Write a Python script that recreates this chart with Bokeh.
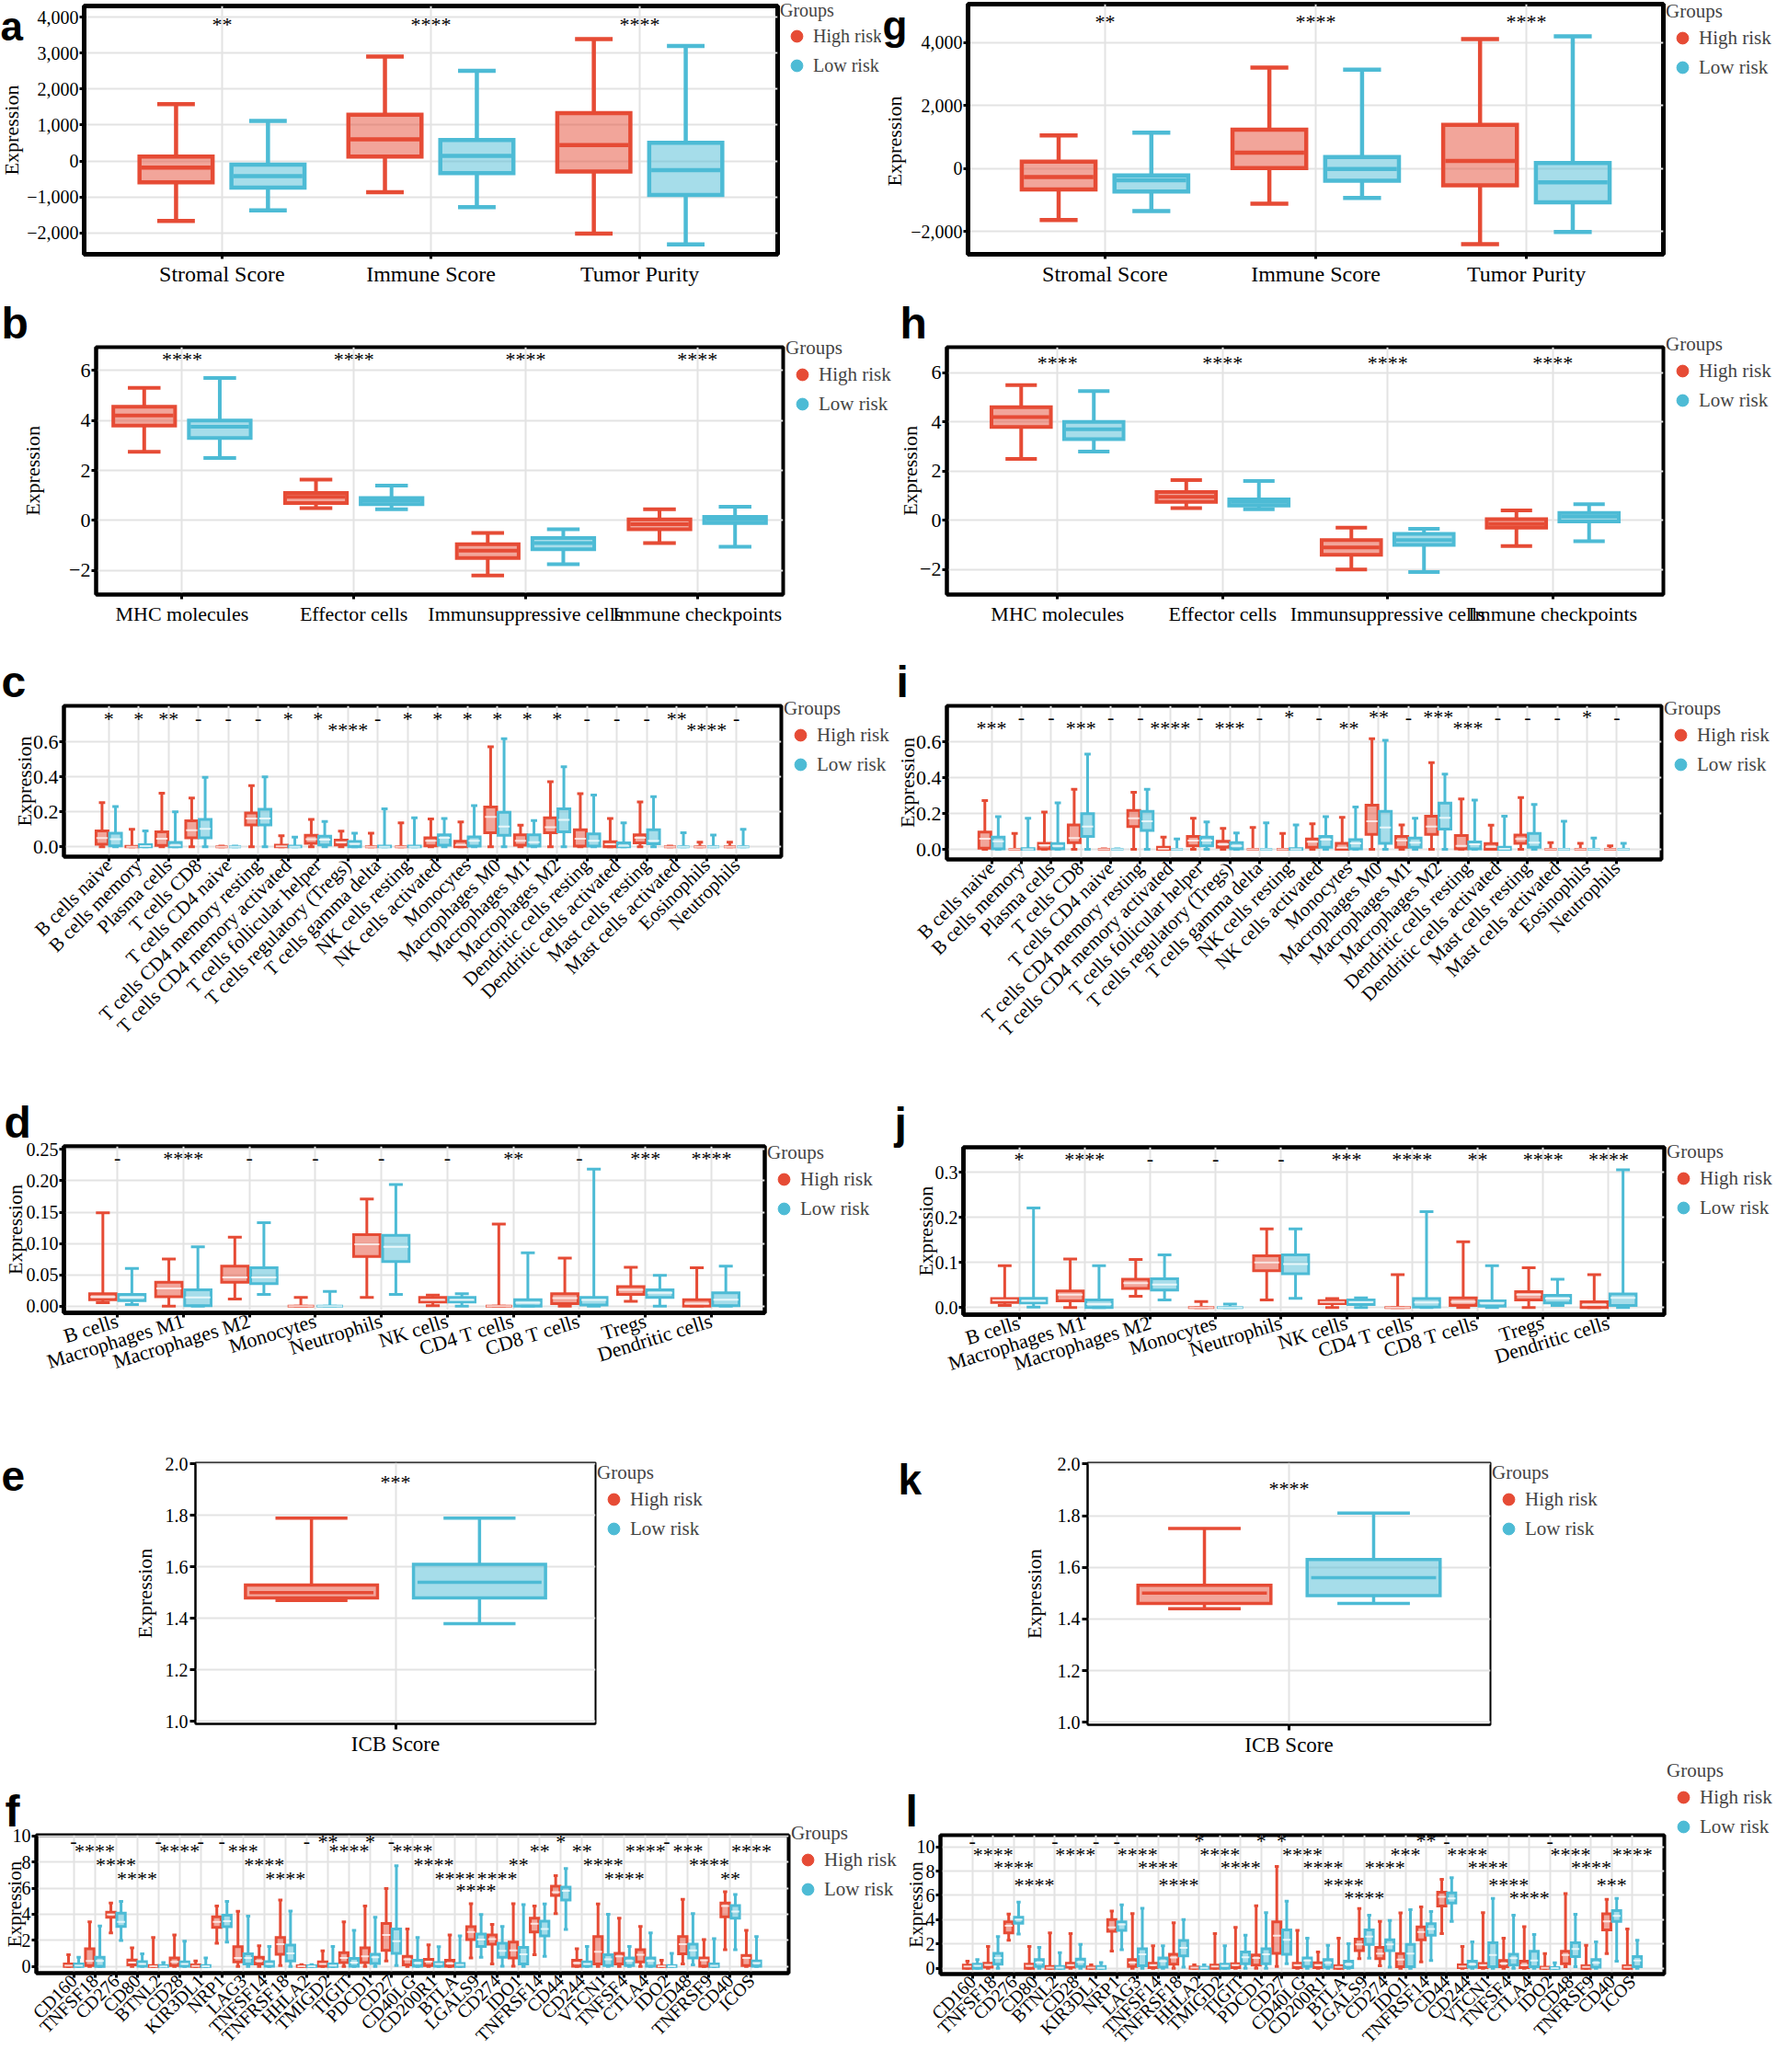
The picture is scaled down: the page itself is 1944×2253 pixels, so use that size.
import math
from bokeh.plotting import figure
from bokeh.models import (ColumnDataSource, FactorRange, Range1d, FixedTicker,
                          Legend, LegendItem, Title, Spacer)
from bokeh.transform import dodge
from bokeh.layouts import column, row
from bokeh.core.properties import value
from bokeh.embed import file_html
from bokeh.resources import INLINE

# ============================ DATA ============================
# each box tuple: (lower whisker, Q1, median, Q3, upper whisker)
groups = ["High risk", "Low risk"]

# ---- a ----
a_categories = ["Stromal Score", "Immune Score", "Tumor Purity"]
a_high = [(-1667, -590, -185, 126, 1583), (-867, 126, 606, 1288, 2905), (-2021, -295, 446, 1330, 3394)]
a_low = [(-1373, -741, -421, -101, 1112), (-1280, -337, 143, 581, 2509), (-2316, -943, -253, 505, 3200)]
a_sig = ["**", "****", "****"]
a_sig_y = [3800, 3800, 3800]
a_yticks = [-2000, -1000, 0, 1000, 2000, 3000, 4000]
a_ylabels = ["\u22122,000", "\u22121,000", "0", "1,000", "2,000", "3,000", "4,000"]

# ---- g ----
g_categories = ["Stromal Score", "Immune Score", "Tumor Purity"]
g_high = [(-1631, -660, -272, 223, 1049), (-1117, 19, 505, 1233, 3204), (-2398, -534, 243, 1388, 4107)]
g_low = [(-1350, -728, -369, -214, 1136), (-932, -388, -10, 369, 3136), (-2010, -1068, -437, 175, 4194)]
g_sig = ["**", "****", "****"]
g_sig_y = [4650, 4650, 4650]
g_yticks = [-2000, 0, 2000, 4000]
g_ylabels = ["\u22122,000", "0", "2,000", "4,000"]

# ---- b ----
b_categories = ["MHC molecules", "Effector cells", "Immunsuppressive cells", "Immune checkpoints"]
b_high = [(2.75, 3.8, 4.2, 4.55, 5.3), (0.5, 0.7, 0.95, 1.1, 1.64), (-2.2, -1.5, -1.2, -0.95, -0.5), (-0.9, -0.35, -0.15, 0.05, 0.45)]
b_low = [(2.5, 3.3, 3.75, 4.0, 5.7), (0.45, 0.65, 0.8, 0.9, 1.4), (-1.75, -1.15, -0.9, -0.7, -0.35), (-1.05, -0.1, 0.05, 0.15, 0.55)]
b_sig = ["****", "****", "****", "****"]
b_sig_y = [6.45, 6.45, 6.45, 6.45]
b_yticks = [-2, 0, 2, 4, 6]
b_ylabels = ["\u22122", "0", "2", "4", "6"]

# ---- h ----
h_categories = ["MHC molecules", "Effector cells", "Immunsuppressive cells", "Immune checkpoints"]
h_high = [(2.5, 3.8, 4.2, 4.6, 5.5), (0.5, 0.75, 0.95, 1.15, 1.64), (-2.0, -1.4, -1.1, -0.8, -0.3), (-1.05, -0.3, -0.15, 0.05, 0.4)]
h_low = [(2.8, 3.3, 3.7, 4.0, 5.25), (0.45, 0.6, 0.75, 0.85, 1.6), (-2.1, -1.0, -0.8, -0.55, -0.35), (-0.85, -0.05, 0.15, 0.3, 0.65)]
h_sig = ["****", "****", "****", "****"]
h_sig_y = [6.4, 6.4, 6.4, 6.4]
h_yticks = [-2, 0, 2, 4, 6]
h_ylabels = ["\u22122", "0", "2", "4", "6"]

# ---- c / i (22 immune cell types) ----
cell_types = ["B cells naive", "B cells memory", "Plasma cells", "T cells CD8", "T cells CD4 naive",
              "T cells CD4 memory resting", "T cells CD4 memory activated", "T cells follicular helper",
              "T cells regulatory (Tregs)", "T cells gamma delta", "NK cells resting", "NK cells activated",
              "Monocytes", "Macrophages M0", "Macrophages M1", "Macrophages M2", "Dendritic cells resting",
              "Dendritic cells activated", "Mast cells resting", "Mast cells activated", "Eosinophils", "Neutrophils"]
c_high = [(0, 0.014, 0.05, 0.09, 0.253), (0, 0, 0, 0.002, 0.1), (0, 0.008, 0.046, 0.085, 0.306),
          (0, 0.051, 0.094, 0.149, 0.279), (0, 0, 0, 0, 0.003), (0, 0.125, 0.162, 0.193, 0.35),
          (0, 0, 0.002, 0.009, 0.063), (0, 0.02, 0.043, 0.065, 0.157), (0, 0.01, 0.026, 0.038, 0.089),
          (0, 0, 0, 0, 0.077), (0, 0, 0, 0, 0.137), (0, 0.005, 0.034, 0.051, 0.159),
          (0, 0, 0.01, 0.031, 0.142), (0, 0.08, 0.171, 0.227, 0.573), (0, 0.009, 0.034, 0.068, 0.123),
          (0, 0.08, 0.111, 0.166, 0.373), (0, 0.003, 0.046, 0.097, 0.304), (0, 0, 0.014, 0.029, 0.162),
          (0, 0.022, 0.051, 0.068, 0.256), (0, 0, 0, 0, 0.003), (0, 0, 0, 0, 0.026), (0, 0, 0, 0, 0.026)]
c_low = [(0, 0.005, 0.043, 0.077, 0.23), (0, 0, 0.003, 0.012, 0.09), (0, 0, 0.008, 0.025, 0.2),
         (0, 0.051, 0.103, 0.157, 0.398), (0, 0, 0, 0, 0.003), (0, 0.125, 0.162, 0.214, 0.40),
         (0, 0, 0, 0.003, 0.055), (0, 0.01, 0.04, 0.06, 0.145), (0, 0, 0.017, 0.03, 0.077),
         (0, 0, 0, 0.003, 0.217), (0, 0, 0, 0.003, 0.166), (0, 0.009, 0.051, 0.068, 0.162),
         (0, 0.003, 0.034, 0.056, 0.236), (0, 0.065, 0.116, 0.197, 0.619), (0, 0.003, 0.026, 0.068, 0.15),
         (0, 0.085, 0.154, 0.217, 0.458), (0, 0.003, 0.034, 0.074, 0.296), (0, 0, 0.005, 0.022, 0.137),
         (0, 0.017, 0.034, 0.097, 0.287), (0, 0, 0, 0, 0.08), (0, 0, 0, 0, 0.067), (0, 0, 0, 0, 0.1)]
c_sig = ["*", "*", "**", "-", "-", "-", "*", "*", "****", "-", "*", "*", "*", "*", "*", "*",
         "-", "-", "-", "**", "****", "-"]
c_sig_y = [0.735, 0.735, 0.735, 0.735, 0.735, 0.735, 0.735, 0.735, 0.67, 0.735, 0.735, 0.735,
           0.735, 0.735, 0.735, 0.735, 0.735, 0.735, 0.735, 0.735, 0.67, 0.735]
c_yticks = [0.0, 0.2, 0.4, 0.6]
c_ylabels = ["0.0", "0.2", "0.4", "0.6"]

i_high = [(0, 0.007, 0.06, 0.097, 0.273), (0, 0, 0, 0, 0.089), (0, 0.003, 0.024, 0.034, 0.208),
          (0, 0.038, 0.063, 0.137, 0.336), (0, 0, 0, 0, 0.003), (0, 0.128, 0.174, 0.217, 0.319),
          (0, 0, 0.003, 0.012, 0.068), (0, 0.02, 0.049, 0.072, 0.174), (0, 0.012, 0.029, 0.046, 0.118),
          (0, 0, 0, 0, 0.123), (0, 0, 0, 0, 0.089), (0, 0.012, 0.043, 0.058, 0.143),
          (0, 0, 0.01, 0.034, 0.179), (0, 0.084, 0.157, 0.247, 0.618), (0, 0.012, 0.051, 0.072, 0.137),
          (0, 0.084, 0.128, 0.186, 0.485), (0, 0.003, 0.02, 0.077, 0.282), (0, 0, 0.015, 0.032, 0.135),
          (0, 0.034, 0.058, 0.08, 0.29), (0, 0, 0, 0, 0.038), (0, 0, 0, 0, 0.034), (0, 0, 0, 0, 0.02)]
i_low = [(0, 0.003, 0.046, 0.068, 0.183), (0, 0, 0, 0.005, 0.174), (0, 0.003, 0.02, 0.032, 0.26),
         (0, 0.072, 0.128, 0.2, 0.532), (0, 0, 0, 0, 0.003), (0, 0.106, 0.157, 0.212, 0.336),
         (0, 0, 0, 0, 0.058), (0, 0.02, 0.049, 0.068, 0.154), (0, 0.003, 0.02, 0.038, 0.092),
         (0, 0, 0, 0, 0.148), (0, 0, 0, 0.005, 0.137), (0, 0.012, 0.055, 0.072, 0.183),
         (0, 0.003, 0.034, 0.055, 0.237), (0, 0.034, 0.123, 0.213, 0.609), (0, 0.012, 0.038, 0.063, 0.174),
         (0, 0.114, 0.177, 0.259, 0.421), (0, 0.003, 0.029, 0.041, 0.276), (0, 0, 0.003, 0.012, 0.186),
         (0, 0.012, 0.038, 0.089, 0.251), (0, 0, 0, 0, 0.157), (0, 0, 0, 0, 0.063), (0, 0, 0, 0, 0.034)]
i_sig = ["***", "-", "-", "***", "-", "-", "****", "-", "***", "-", "*", "-", "**", "**", "-", "***",
         "***", "-", "-", "-", "*", "-"]
i_sig_y = [0.68, 0.74, 0.74, 0.68, 0.74, 0.74, 0.68, 0.74, 0.68, 0.74, 0.74, 0.74, 0.68, 0.74,
           0.74, 0.74, 0.68, 0.74, 0.74, 0.74, 0.74, 0.74]

# ---- d / j ----
immune_cells = ["B cells", "Macrophages M1", "Macrophages M2", "Monocytes", "Neutrophils", "NK cells",
                "CD4 T cells", "CD8 T cells", "Tregs", "Dendritic cells"]
d_high = [(0.0054, 0.0103, 0.0147, 0.0196, 0.149), (0, 0.015, 0.028, 0.038, 0.075),
          (0.0113, 0.038, 0.0456, 0.0637, 0.110), (0, 0, 0, 0, 0.0137), (0.0137, 0.079, 0.0985, 0.114, 0.171),
          (0.0005, 0.0064, 0.0098, 0.0137, 0.0176), (0, 0, 0, 0, 0.131), (0, 0.004, 0.0127, 0.0196, 0.0765),
          (0.0074, 0.0186, 0.026, 0.031, 0.0618), (0, 0, 0.004, 0.0103, 0.0613)]
d_low = [(0.0025, 0.0088, 0.0137, 0.0186, 0.060), (0, 0.0005, 0.0137, 0.026, 0.0946),
         (0.0186, 0.0358, 0.0456, 0.0613, 0.133), (0, 0, 0, 0, 0.0235), (0.0186, 0.071, 0.0946, 0.113, 0.194),
         (0, 0.0064, 0.0098, 0.0137, 0.0196), (0, 0, 0.0054, 0.0103, 0.085), (0, 0.0015, 0.0098, 0.0137, 0.2186),
         (0, 0.0137, 0.021, 0.026, 0.049), (0, 0.0005, 0.0103, 0.021, 0.0637)]
d_sig = ["-", "****", "-", "-", "-", "-", "**", "-", "***", "****"]
d_sig_y = [0.236, 0.236, 0.236, 0.236, 0.236, 0.236, 0.236, 0.236, 0.236, 0.236]
d_yticks = [0.0, 0.05, 0.1, 0.15, 0.2, 0.25]
d_ylabels = ["0.00", "0.05", "0.10", "0.15", "0.20", "0.25"]

j_high = [(0.0048, 0.0116, 0.0164, 0.0198, 0.093), (0, 0.015, 0.0286, 0.0368, 0.108),
          (0.0252, 0.0423, 0.0545, 0.0627, 0.107), (0, 0, 0, 0, 0.0136), (0.017, 0.0818, 0.1, 0.115, 0.175),
          (0, 0.0089, 0.0123, 0.0157, 0.0198), (0, 0, 0, 0, 0.073), (0, 0.0048, 0.013, 0.0218, 0.146),
          (0, 0.017, 0.0286, 0.0354, 0.0886), (0, 0, 0.006, 0.013, 0.073)]
j_low = [(0.0014, 0.0102, 0.015, 0.0205, 0.221), (0, 0, 0.008, 0.017, 0.093),
         (0.017, 0.0389, 0.051, 0.064, 0.117), (0, 0, 0, 0, 0.008), (0.0205, 0.075, 0.0968, 0.117, 0.175),
         (0, 0.0068, 0.0123, 0.017, 0.0218), (0, 0.0014, 0.0116, 0.0198, 0.213), (0, 0.0034, 0.0102, 0.015, 0.093),
         (0.0048, 0.0102, 0.0198, 0.0273, 0.0627), (0, 0.0048, 0.0218, 0.03, 0.306)]
j_sig = ["*", "****", "-", "-", "-", "***", "****", "**", "****", "****"]
j_sig_y = [0.33, 0.33, 0.33, 0.33, 0.33, 0.33, 0.33, 0.33, 0.33, 0.33]
j_yticks = [0.0, 0.1, 0.2, 0.3]
j_ylabels = ["0.0", "0.1", "0.2", "0.3"]

# ---- e / k ----
icb_categories = ["ICB Score"]
e_high = [(1.47, 1.48, 1.50, 1.53, 1.79)]
e_low = [(1.38, 1.48, 1.54, 1.61, 1.79)]
e_sig = ["***"]
e_sig_y = [1.93]
k_high = [(1.44, 1.46, 1.50, 1.53, 1.75)]
k_low = [(1.46, 1.49, 1.56, 1.63, 1.81)]
k_sig = ["****"]
k_sig_y = [1.905]
ek_yticks = [1.0, 1.2, 1.4, 1.6, 1.8, 2.0]
ek_ylabels = ["1.0", "1.2", "1.4", "1.6", "1.8", "2.0"]

# ---- f / l (immune checkpoint genes) ----
genes = ["CD160", "TNFSF18", "CD276", "CD80", "BTNL2", "CD28", "KIR3DL1", "NRP1", "LAG3", "TNFSF14",
         "TNFRSF18", "HHLA2", "TMIGD2", "TIGIT", "PDCD1", "CD27", "CD40LG", "CD200R1", "BTLA", "LGALS9",
         "CD274", "IDO1", "TNFRSF14", "CD44", "CD244", "VTCN1", "TNFSF4", "CTLA4", "IDO2", "CD48",
         "TNFRSF9", "CD40", "ICOS"]
f_high = [(0, 0, 0.07, 0.19, 0.89), (0, 0.07, 0.42, 1.36, 3.41), (2.57, 3.76, 3.97, 4.16, 4.86),
          (0, 0.12, 0.3, 0.49, 1.43), (0, 0, 0.02, 0.07, 2.22), (0, 0.07, 0.35, 0.65, 2.41),
          (0, 0, 0.03, 0.12, 0.42), (1.78, 2.99, 3.41, 3.81, 4.63), (0, 0.35, 0.65, 1.52, 4.23),
          (0, 0.19, 0.42, 0.7, 1.59), (0.07, 0.93, 1.71, 2.22, 5.09), (0, 0, 0.02, 0.05, 0.14),
          (0, 0.02, 0.19, 0.35, 1.19), (0, 0.3, 0.65, 1.05, 3.41), (0, 0.3, 0.77, 1.43, 4.63),
          (0.42, 1.24, 2.41, 3.29, 5.96), (0, 0.12, 0.54, 0.77, 2.87), (0, 0.07, 0.37, 0.54, 1.66),
          (0, 0.02, 0.23, 0.47, 2.41), (0.65, 2.06, 2.64, 3.04, 4.81), (0.19, 1.71, 2.1, 2.41, 3.22),
          (0.02, 0.65, 1.24, 1.87, 4.81), (0.89, 2.64, 3.27, 3.69, 4.63), (4.04, 5.44, 5.68, 6.14, 6.96),
          (0, 0.02, 0.26, 0.47, 1.36), (0, 0.19, 1.12, 2.29, 4.79), (0, 0.19, 0.77, 1.0, 3.69),
          (0, 0.35, 0.89, 1.29, 3.06), (0, 0, 0.01, 0.03, 0.47), (0.19, 0.96, 1.71, 2.29, 5.14),
          (0, 0.02, 0.47, 0.65, 2.06), (1.29, 3.81, 4.63, 4.86, 5.72), (0, 0.07, 0.65, 0.84, 2.76)]
f_low = [(0, 0, 0.07, 0.19, 0.7), (0, 0, 0.42, 0.7, 3.1), (1.99, 3.06, 3.41, 4.09, 4.98),
         (0, 0.02, 0.19, 0.37, 0.96), (0, 0, 0, 0.07, 0.3), (0, 0.02, 0.19, 0.35, 1.94),
         (0, 0, 0.02, 0.07, 0.65), (1.87, 3.04, 3.46, 3.93, 4.98), (0, 0.19, 0.65, 0.96, 3.86),
         (0, 0.02, 0.19, 0.37, 1.54), (0, 0.42, 1.0, 1.64, 4.25), (0, 0, 0.02, 0.05, 0.14),
         (0, 0, 0.07, 0.19, 1.54), (0, 0.02, 0.3, 0.61, 2.76), (0, 0.23, 0.7, 0.93, 3.76),
         (0.07, 1.0, 1.94, 2.87, 7.71), (0, 0.02, 0.26, 0.47, 2.22), (0, 0.02, 0.19, 0.3, 1.52),
         (0, 0, 0.12, 0.23, 2.34), (0.7, 1.54, 2.06, 2.48, 3.97), (0.02, 0.7, 1.19, 1.78, 3.06),
         (0, 0.19, 0.93, 1.47, 4.74), (0.77, 2.34, 2.87, 3.46, 4.79), (2.83, 5.09, 5.79, 6.07, 7.5),
         (0, 0.02, 0.19, 0.35, 1.54), (0, 0.07, 0.54, 0.89, 4.0), (0, 0.07, 0.42, 0.65, 1.54),
         (0, 0.02, 0.42, 0.65, 2.57), (0, 0, 0.01, 0.07, 1.0), (0.12, 0.65, 1.24, 1.71, 4.04),
         (0, 0, 0.05, 0.19, 2.13), (1.29, 3.69, 4.21, 4.67, 5.51), (0, 0.02, 0.26, 0.42, 2.29)]
f_sig = ["-", "****", "****", "****", "-", "****", "-", "-", "***", "****", "****", "-", "**", "****",
         "*", "-", "****", "****", "****", "****", "****", "**", "**", "*", "**", "****", "****", "****",
         "-", "***", "****", "**", "****"]
f_sig_y = [9.58, 8.83, 7.78, 6.73, 9.58, 8.83, 9.58, 9.58, 8.83, 7.78, 6.73, 9.58, 9.58, 8.83, 9.58,
           9.58, 8.83, 7.78, 6.73, 5.84, 6.73, 7.78, 8.83, 9.58, 8.83, 7.78, 6.73, 8.83, 9.58, 8.83,
           7.78, 6.73, 8.83]

l_high = [(0, 0, 0.15, 0.25, 0.58), (0, 0.08, 0.28, 0.41, 1.8), (2.3, 2.91, 3.49, 3.82, 4.46),
          (0, 0, 0.2, 0.33, 1.8), (0, 0, 0.05, 0.15, 2.91), (0, 0.08, 0.25, 0.41, 2.86),
          (0, 0, 0.05, 0.1, 0.28), (1.42, 3.04, 3.37, 4.0, 4.71), (0, 0.15, 0.46, 0.71, 4.51),
          (0, 0.05, 0.25, 0.41, 1.85), (0, 0.33, 0.89, 1.14, 3.75), (0, 0, 0.05, 0.1, 0.28),
          (0, 0, 0.15, 0.25, 2.86), (0, 0.05, 0.25, 0.38, 3.37), (0, 0.25, 0.84, 1.09, 5.14),
          (0.15, 1.22, 2.68, 3.82, 8.38), (0, 0.05, 0.25, 0.41, 3.11), (0, 0.05, 0.25, 0.45, 1.34),
          (0, 0, 0.1, 0.2, 2.47), (0.78, 1.46, 1.97, 2.4, 4.92), (0.2, 0.78, 1.21, 1.72, 3.86),
          (0, 0.13, 0.71, 1.21, 4.55), (0.53, 2.35, 2.98, 3.41, 5.05), (2.85, 5.13, 5.88, 6.26, 7.32),
          (0, 0.05, 0.15, 0.28, 1.79), (0, 0.05, 0.25, 0.4, 4.57), (0, 0.13, 0.4, 0.63, 2.47),
          (0, 0.05, 0.25, 0.58, 3.43), (0, 0, 0.03, 0.08, 1.21), (0.13, 0.38, 1.09, 1.39, 6.14),
          (0, 0, 0.1, 0.2, 1.89), (1.21, 3.16, 3.86, 4.49, 5.68), (0, 0, 0.1, 0.2, 3.23)]
l_low = [(0, 0, 0.2, 0.33, 0.71), (0, 0.33, 0.84, 1.22, 2.61), (2.81, 3.7, 4.0, 4.2, 5.44),
         (0, 0.15, 0.46, 0.71, 1.72), (0, 0, 0.05, 0.15, 1.29), (0, 0.15, 0.51, 0.76, 1.97),
         (0, 0, 0.03, 0.15, 0.46), (1.52, 3.11, 3.62, 3.82, 5.22), (0, 0.2, 1.14, 1.6, 4.94),
         (0, 0.08, 0.58, 0.84, 1.85), (0.08, 1.01, 1.67, 2.28, 4.0), (0, 0, 0.03, 0.08, 0.28),
         (0, 0, 0.2, 0.33, 1.85), (0, 0.38, 0.91, 1.34, 2.73), (0, 0.38, 1.14, 1.6, 4.58),
         (0.38, 1.14, 2.35, 3.16, 5.52), (0, 0.15, 0.63, 0.84, 2.48), (0, 0.08, 0.45, 0.71, 1.89),
         (0, 0.05, 0.33, 0.58, 2.02), (0.83, 1.97, 2.6, 3.16, 4.37), (0.08, 1.46, 1.97, 2.35, 3.94),
         (0, 0.13, 1.21, 1.97, 4.82), (0.63, 2.73, 3.23, 3.66, 4.67), (3.86, 5.38, 5.76, 6.21, 7.45),
         (0, 0.08, 0.33, 0.58, 2.17), (0, 0.13, 1.09, 2.1, 5.76), (0, 0.25, 0.83, 1.14, 4.37),
         (0, 0.13, 0.63, 1.39, 2.78), (0, 0, 0.02, 0.05, 0.45), (0.13, 0.96, 1.59, 2.1, 4.44),
         (0, 0.08, 0.45, 0.71, 2.17), (0.58, 3.86, 4.32, 4.75, 5.76), (0, 0.13, 0.63, 0.96, 2.3)]
l_sig = ["-", "****", "****", "****", "-", "****", "-", "-", "****", "****", "****", "*", "****", "****",
         "*", "*", "****", "****", "****", "****", "****", "***", "**", "-", "****", "****", "****", "****",
         "-", "****", "****", "***", "****"]
l_sig_y = [10.5, 9.4, 8.3, 6.9, 10.5, 9.4, 10.5, 10.5, 9.4, 8.3, 6.9, 10.5, 9.4, 8.3, 10.5, 10.5,
           9.4, 8.3, 6.9, 5.8, 8.3, 9.4, 10.5, 10.5, 9.4, 8.3, 6.9, 5.8, 10.5, 9.4, 8.3, 6.9, 9.4]
fl_yticks = [0, 2, 4, 6, 8, 10]
fl_ylabels = ["0", "2", "4", "6", "8", "10"]

# ============================ STYLE ============================
RED = "#E64B35"
BLUE = "#4DBBD5"
SERIF = "Liberation Serif"
SANS = "Liberation Sans"
GRID = "#e3e3e3"


def bare_fig(w, h, xr, yr):
    f = figure(title=None, width=w, height=h, x_range=xr, y_range=yr,
               x_axis_type=None, y_axis_type=None, min_border=0,
               min_border_left=0, min_border_right=0, min_border_top=0, min_border_bottom=0,
               output_backend="svg", toolbar_location=None)
    f.outline_line_color = None
    f.background_fill_color = "white"
    f.border_fill_color = "white"
    return f


def legend_block(x0, x1, row_top, row_bottom, leg_top, fs="21px"):
    w = x1 - x0
    f = bare_fig(w, row_bottom - leg_top, Range1d(0, 1), Range1d(0, 1))
    r1 = f.scatter(x=[0], y=[0], size=0, marker="circle", color=RED)
    r2 = f.scatter(x=[0], y=[0], size=0, marker="circle", color=BLUE)
    leg = Legend(items=[LegendItem(label=groups[0], renderers=[r1]),
                        LegendItem(label=groups[1], renderers=[r2])],
                 title="Groups", location="top_left",
                 title_text_font=SERIF, title_text_font_size=fs, title_text_font_style="normal",
                 label_text_font=SERIF, label_text_font_size=fs,
                 glyph_width=36, glyph_height=32, label_height=32, label_standoff=-8,
                 spacing=0, padding=0, margin=0, title_standoff=0,
                 background_fill_alpha=0, border_line_alpha=0)
    f.add_layout(leg)
    if leg_top > row_top:
        return column(Spacer(width=w, height=leg_top - row_top), f)
    return column(f)


def letter_strip(x0, x1, row_top, row_bottom, letter, lx, ly, size="46px", ylab=None):
    # local coordinates: x from the strip's left edge, y upward from the strip's bottom edge
    w, h = x1 - x0, row_bottom - row_top
    f = bare_fig(w, h, Range1d(0, w), Range1d(0, h))
    f.text(x=[lx - x0], y=[row_bottom - ly], text=[letter], text_font=value(SANS), text_font_size=size,
           text_font_style="bold", text_align="left", text_baseline="alphabetic", text_color="black")
    if ylab is not None:
        ex, ey = ylab
        f.text(x=[ex - x0], y=[row_bottom - ey], text=["Expression"], angle=math.pi / 2,
               text_font=value(SERIF), text_font_size="22px", text_align="center",
               text_baseline="middle", text_color="black")
    # wrapped in its own column so that the row does not align its frame with the panels' frames
    return column(f)


def make_panel(cats, high, low, sig, sig_y, yr, yticks, ylabels, g):
    cx0, cy0, cx1, cy1 = g["canvas"]
    fx0, fy0, fx1, fy1 = g["frame"]
    p = figure(title=None,
               x_range=FactorRange(factors=list(cats), range_padding=g["pad"],
                                   range_padding_units="absolute"),
               y_range=Range1d(yr[0], yr[1]),
               width=cx1 - cx0, height=cy1 - cy0,
               min_border_left=fx0 - cx0, min_border_right=cx1 - fx1,
               min_border_top=fy0 - cy0, min_border_bottom=cy1 - fy1,
               output_backend="svg", toolbar_location=None)
    p.background_fill_color = "white"
    p.border_fill_color = "white"

    lw = g["lw"]
    bw, off, cap = g["bw"], g["off"], g["cap"]
    for data, sign, color in ((high, -1, RED), (low, 1, BLUE)):
        lo, q1, md, q3, hi = (list(t) for t in zip(*data))
        s = ColumnDataSource(dict(cat=list(cats), lower=lo, q1=q1, med=md, q3=q3, upper=hi))
        o = sign * off
        xc = dodge("cat", o, range=p.x_range)
        xl = dodge("cat", o - cap / 2, range=p.x_range)
        xr = dodge("cat", o + cap / 2, range=p.x_range)
        bl = dodge("cat", o - bw / 2 + 0.01, range=p.x_range)
        br = dodge("cat", o + bw / 2 - 0.01, range=p.x_range)
        p.segment(x0=xc, y0="q3", x1=xc, y1="upper", source=s, line_color=color, line_width=lw)
        p.segment(x0=xc, y0="lower", x1=xc, y1="q1", source=s, line_color=color, line_width=lw)
        p.segment(x0=xl, y0="upper", x1=xr, y1="upper", source=s, line_color=color, line_width=lw)
        p.segment(x0=xl, y0="lower", x1=xr, y1="lower", source=s, line_color=color, line_width=lw)
        p.vbar(x=xc, width=bw, bottom="q1", top="q3", source=s, fill_color=color, fill_alpha=0.5,
               line_color=color, line_width=lw, line_join="miter")
        if g["med"] == "color":
            p.segment(x0=bl, y0="med", x1=br, y1="med", source=s, line_color=color, line_width=lw)
        else:
            p.segment(x0=bl, y0="med", x1=br, y1="med", source=s, line_color="white",
                      line_alpha=0.75, line_width=2)

    ss = ColumnDataSource(dict(cat=list(cats), y=list(sig_y), t=list(sig)))
    p.text(x="cat", y="y", text="t", source=ss, text_align="center", text_baseline="middle",
           text_font=value(SERIF), text_font_size=g["sig_fs"], text_color="black")

    # axes
    p.yaxis.ticker = FixedTicker(ticks=list(yticks))
    p.yaxis.major_label_overrides = {t: l for t, l in zip(yticks, ylabels)}
    for ax in (p.xaxis[0], p.yaxis[0]):
        ax.axis_line_color = "black"
        ax.axis_line_width = g["frame_lw"]
        ax.major_tick_out = g.get("tick_out", 6)
        ax.major_tick_in = 0
        ax.major_tick_line_width = 3
        ax.major_tick_line_color = "black"
        ax.minor_tick_line_color = None
        ax.major_label_text_font = SERIF
        ax.major_label_text_color = "black"
    p.yaxis.major_label_text_font_size = g["ytick_fs"]
    p.yaxis.major_label_standoff = g.get("ystand", 2)
    if g.get("ylab_s") is not None:
        p.yaxis.axis_label = "Expression"
        p.yaxis.axis_label_text_font = SERIF
        p.yaxis.axis_label_text_font_size = g.get("ylab_fs", "22px")
        p.yaxis.axis_label_text_font_style = "normal"
        p.yaxis.axis_label_text_color = "black"
        p.yaxis.axis_label_standoff = g["ylab_s"]
    p.xaxis.major_label_text_font_size = g["xtick_fs"]
    p.xaxis.major_label_standoff = g.get("xstand", 3)
    if g.get("rot"):
        p.xaxis.major_label_orientation = g["rot"]
    p.xgrid.grid_line_color = GRID
    p.xgrid.grid_line_width = 2
    p.ygrid.grid_line_color = GRID
    p.ygrid.grid_line_width = 2
    p.outline_line_color = "black"
    p.outline_line_width = g["frame_lw"]

    if g.get("letter"):
        lt, lx = g["letter"]
        p.add_layout(Title(text=lt, align="left", offset=lx - fx0, standoff=0,
                           text_font=SANS, text_font_size="48px", text_font_style="bold",
                           text_color="black"), "above")
    # wrapped so that frames of neighbouring panels in a row are not forced to align
    return column(p)


common_big = dict(bw=0.35, off=0.22, cap=0.18, lw=4.5, frame_lw=5, med="color", tick_out=5, ystand=1,
                  sig_fs="22px", ytick_fs="20px", xtick_fs="24px")
common_b = dict(bw=0.36, off=0.22, cap=0.19, lw=4, frame_lw=4, med="color", tick_out=5, ystand=1,
                sig_fs="22px", ytick_fs="22px", xtick_fs="22px")
common_c = dict(bw=0.4, off=0.225, cap=0.21, lw=3, frame_lw=4, med="white", tick_out=5, ystand=1,
                sig_fs="22px", ytick_fs="22px", xtick_fs="21px", rot=math.pi / 4, xstand=1)
common_d = dict(bw=0.4, off=0.22, cap=0.21, lw=3, frame_lw=4.5, med="white", tick_out=5, ystand=1,
                sig_fs="22px", ytick_fs="20px", xtick_fs="22px", rot=0.3, xstand=3)
common_e = dict(bw=0.33, off=0.21, cap=0.18, lw=3.5, frame_lw=2, med="color",
                sig_fs="22px", ytick_fs="20px", xtick_fs="23px")
common_f = dict(bw=0.4, off=0.24, cap=0.2, lw=3, frame_lw=4, med="white", tick_out=5, ystand=1,
                sig_fs="22px", ytick_fs="20px", xtick_fs="20px", rot=math.pi / 4, xstand=0,
                ylab_fs="21px")

# ---------------- row 1 : a, g ----------------
R1 = (8, 330)
sa = letter_strip(8, 34, R1[0], R1[1], "a", 8, 36, size="44px", ylab=(20, 149))
pa = make_panel(a_categories, a_high, a_low, a_sig, a_sig_y, (-2594, 4312), a_yticks, a_ylabels,
                dict(common_big, canvas=(34, R1[0], 856, R1[1]), frame=(95, 14, 853, 284), pad=0.16))
la = legend_block(856, 966, R1[0], R1[1], 8, fs="20px")
sg = letter_strip(966, 995, R1[0], R1[1], "g", 967, 35, size="44px", ylab=(980, 161))
pg = make_panel(g_categories, g_high, g_low, g_sig, g_sig_y, (-2718, 5214), g_yticks, g_ylabels,
                dict(common_big, canvas=(995, R1[0], 1819, R1[1]), frame=(1056, 12, 1816, 284), pad=0.15))
lg = legend_block(1819, 1936, R1[0], R1[1], 8)

# ---------------- row 2 : b, h ----------------
R2 = (330, 720)
pb = make_panel(b_categories, b_high, b_low, b_sig, b_sig_y, (-2.96, 6.93), b_yticks, b_ylabels,
                dict(common_b, canvas=(8, R2[0], 862, R2[1]), frame=(112, 385, 859, 654), pad=0.0,
                     ylab_s=24, letter=("b", 9)))
lb = legend_block(862, 982, R2[0], R2[1], 374)
ph = make_panel(h_categories, h_high, h_low, h_sig, h_sig_y, (-3.02, 7.04), h_yticks, h_ylabels,
                dict(common_b, canvas=(982, R2[0], 1819, R2[1]), frame=(1037, 381, 1816, 654), pad=0.17,
                     ylab_s=-5, letter=("h", 986)))
lh = legend_block(1819, 1936, R2[0], R2[1], 370)

# ---------------- row 3 : c, i ----------------
R3 = (720, 1178)
pc = make_panel(cell_types, c_high, c_low, c_sig, c_sig_y, (-0.057, 0.807), c_yticks, c_ylabels,
                dict(common_c, canvas=(8, R3[0], 860, R3[1]), frame=(77, 772, 857, 939), pad=1.0,
                     ylab_s=-6, letter=("c", 9)))
lc = legend_block(860, 977, R3[0], R3[1], 766)
pi_ = make_panel(cell_types, i_high, i_low, i_sig, i_sig_y, (-0.056, 0.802), c_yticks, c_ylabels,
                 dict(common_c, canvas=(977, R3[0], 1817, R3[1]), frame=(1037, 774, 1814, 942), pad=1.0,
                      ylab_s=-6, letter=("i", 982)))
li = legend_block(1817, 1936, R3[0], R3[1], 766)

# ---------------- row 4 : d, j ----------------
R4 = (1178, 1530)
pd_ = make_panel(immune_cells, d_high, d_low, d_sig, d_sig_y, (-0.0108, 0.255), d_yticks, d_ylabels,
                 dict(common_d, canvas=(8, R4[0], 842, R4[1]), frame=(74, 1254, 839, 1435), pad=0.31,
                      ylab_s=-3, letter=("d", 9)))
ld = legend_block(842, 975, R4[0], R4[1], 1249)
pj = make_panel(immune_cells, j_high, j_low, j_sig, j_sig_y, (-0.0157, 0.356), j_yticks, j_ylabels,
                dict(common_d, canvas=(975, R4[0], 1820, R4[1]), frame=(1055, 1255, 1817, 1437), pad=0.35,
                     ylab_s=-5, letter=("j", 980)))
lj = legend_block(1820, 1936, R4[0], R4[1], 1248)

# ---------------- row 5 : e, k ----------------
R5 = (1530, 1920)
se = letter_strip(8, 44, R5[0], R5[1], "e", 9, 1612)
pe = make_panel(icb_categories, e_high, e_low, e_sig, e_sig_y, (0.99, 2.005), ek_yticks, ek_ylabels,
                dict(common_e, canvas=(44, R5[0], 657, R5[1]), frame=(220, 1598, 655, 1882), pad=0.0,
                     ylab_s=7))
le = legend_block(657, 975, R5[0], R5[1], 1597)
sk = letter_strip(975, 1020, R5[0], R5[1], "k", 984, 1616)
pk = make_panel(icb_categories, k_high, k_low, k_sig, k_sig_y, (0.99, 2.005), ek_yticks, ek_ylabels,
                dict(common_e, canvas=(1020, R5[0], 1630, R5[1]), frame=(1190, 1598, 1628, 1889), pad=0.0,
                     ylab_s=10))
lk = legend_block(1630, 1936, R5[0], R5[1], 1597)

# ---------------- row 6 : f, l ----------------
R6 = (1920, 2245)
pf = make_panel(genes, f_high, f_low, f_sig, f_sig_y, (-0.51, 10.05), fl_yticks, fl_ylabels,
                dict(common_f, canvas=(8, R6[0], 868, R6[1]), frame=(43, 2003, 865, 2153), pad=1.26,
                     ylab_s=-17, letter=("f", 9)))
lf = legend_block(868, 988, R6[0], R6[1], 1989)
pl = make_panel(genes, l_high, l_low, l_sig, l_sig_y, (-0.48, 10.96), fl_yticks, fl_ylabels,
                dict(common_f, canvas=(988, R6[0], 1820, R6[1]), frame=(1028, 2003, 1817, 2154), pad=1.05,
                     ylab_s=-14, letter=("l", 990)))
ll = legend_block(1820, 1936, R6[0], R6[1], 1921)

layout = column(row(sa, pa, la, sg, pg, lg),
                row(pb, lb, ph, lh),
                row(pc, lc, pi_, li),
                row(pd_, ld, pj, lj),
                row(se, pe, le, sk, pk, lk),
                row(pf, lf, pl, ll))

open("out.html", "w").write(file_html(layout, INLINE))
